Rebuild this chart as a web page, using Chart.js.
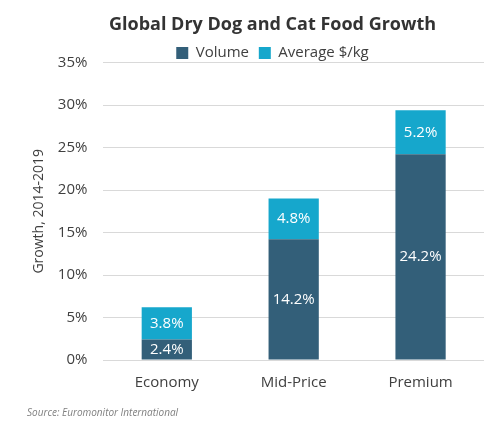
<!DOCTYPE html>
<html>
<head>
<meta charset="utf-8">
<script src="https://cdn.jsdelivr.net/npm/chart.js@4"></script>
<style>
  html, body { margin: 0; padding: 0; background: #fff; }
  #wrap { width: 500px; height: 427px; position: relative; }
</style>
</head>
<body>
<div id="wrap"><canvas id="growthChart"></canvas></div>
<script>
const categories = ['Economy', 'Mid-Price', 'Premium']
const volume = [2.4, 14.2, 24.2]
const avgPrice = [3.8, 4.8, 5.2]
const yTicks = [0, 5, 10, 15, 20, 25, 30, 35]

// draws the white value labels in the middle of each bar segment
const barLabels = {
  id: 'barLabels',
  afterDatasetsDraw(chart) {
    const ctx = chart.ctx
    ctx.save()
    ctx.font = '15px "Open Sans"'
    ctx.fillStyle = '#ffffff'
    ctx.textAlign = 'center'
    ctx.textBaseline = 'middle'
    chart.data.datasets.forEach((ds, i) => {
      chart.getDatasetMeta(i).data.forEach((bar, j) => {
        const mid = (bar.y + bar.base) / 2
        ctx.fillText(ds.data[j].toFixed(1) + '%', bar.x, mid)
      })
    })
    ctx.restore()
  }
}

// the legend sits tight on the plot, and title + legend are a bit right of centre
const headerTweak = {
  id: 'headerTweak',
  beforeLayout(chart) {
    const legend = chart.legend
    if (legend && !legend._tight) {
      const fit = legend.fit
      legend.fit = function () {
        fit.call(this)
        this.height -= 8
      }
      legend._tight = true
    }
  },
  afterLayout(chart) {
    const dx = 17
    ;[chart.titleBlock, chart.legend].forEach((box) => {
      if (box) { box.left += dx; box.right += dx }
    })
  }
}

const ctx = document.getElementById('growthChart').getContext('2d')
new Chart(ctx, {
  type: 'bar',
  data: {
    labels: categories,
    datasets: [
      { label: 'Volume', data: volume, backgroundColor: '#335f79', barPercentage: 0.55, categoryPercentage: 0.72 },
      { label: 'Average $/kg', data: avgPrice, backgroundColor: '#16a7cc', barPercentage: 0.55, categoryPercentage: 0.72 }
    ]
  },
  options: {
    responsive: true,
    maintainAspectRatio: false,
    animation: false,
    layout: { padding: { left: 27, right: 16, top: 9, bottom: 2 } },
    plugins: {
      title: {
        display: true,
        text: 'Global Dry Dog and Cat Food Growth',
        color: '#333333',
        font: { family: 'Open Sans', size: 18, weight: 'bold' },
        padding: { top: 5, bottom: 8 }
      },
      subtitle: {
        display: true,
        position: 'bottom',
        align: 'start',
        text: 'Source: Euromonitor International',
        color: '#7f7f7f',
        font: { family: 'Open Sans', size: 10, style: 'italic' },
        padding: { top: 9, bottom: 6 }
      },
      legend: {
        display: true,
        position: 'top',
        labels: {
          color: '#404040',
          font: { family: 'Open Sans', size: 15 },
          boxWidth: 12,
          boxHeight: 12,
          padding: 2,
          generateLabels(chart) {
            const items = Chart.defaults.plugins.legend.labels.generateLabels(chart)
            items.forEach((it, i) => { if (i < items.length - 1) it.text += '  ' })
            return items
          }
        }
      },
      tooltip: { enabled: false }
    },
    scales: {
      x: {
        stacked: true,
        grid: { display: false },
        border: { display: false },
        ticks: { color: '#404040', font: { family: 'Open Sans', size: 15 }, padding: 6 }
      },
      y: {
        stacked: true,
        min: 0,
        max: 35,
        afterBuildTicks(axis) {
          axis.ticks = yTicks.map(v => ({ value: v }))
        },
        grid: { color: '#d9d9d9', drawTicks: false },
        border: { display: false },
        ticks: {
          color: '#404040',
          font: { family: 'Open Sans', size: 15 },
          padding: 16,
          callback: (v) => v + '%'
        },
        title: {
          display: true,
          text: 'Growth, 2014-2019',
          color: '#404040',
          font: { family: 'Open Sans', size: 14 },
          padding: { top: 4, bottom: -6 }
        }
      }
    }
  },
  plugins: [barLabels, headerTweak]
})
</script>
</body>
</html>
